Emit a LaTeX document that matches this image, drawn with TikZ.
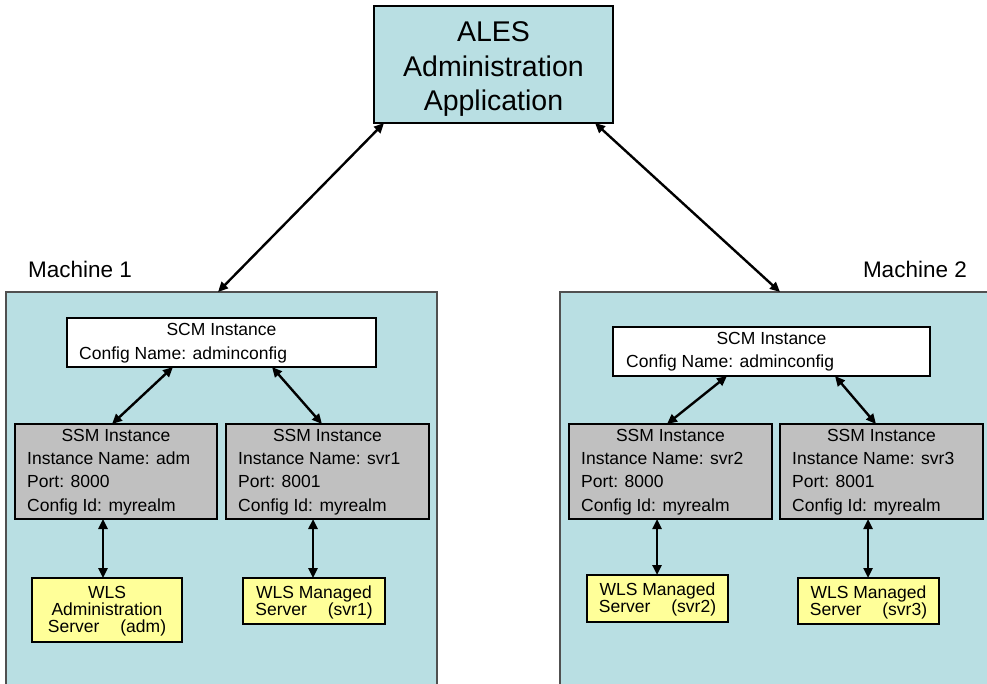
\documentclass[tikz,border=0pt]{standalone}
\usepackage{fontspec}
\setmainfont{Liberation Sans}
\usetikzlibrary{arrows.meta}
\definecolor{mblue}{HTML}{B9DFE3}
\definecolor{sgray}{HTML}{C0C0C0}
\definecolor{wyellow}{HTML}{FFFF99}
\definecolor{mborder}{HTML}{505050}
\tikzset{
  box/.style={draw=black, line width=2.2pt, inner sep=0pt, outer sep=0pt},
  machinebox/.style={draw=mborder, fill=mblue, line width=1.3pt, inner sep=0pt, outer sep=0pt},
  alesbox/.style={box, fill=mblue},
  scmbox/.style={box, fill=white},
  ssmbox/.style={box, fill=sgray},
  wlsbox/.style={box, fill=wyellow},
  txt/.style={inner sep=0pt, font=\fontsize{17.5}{17}\selectfont},
  bigtxt/.style={inner sep=0pt, font=\fontsize{28.5}{34}\selectfont},
  labtxt/.style={inner sep=0pt, font=\fontsize{22.5}{24}\selectfont},
  link/.style={line width=2.4pt, {Triangle[length=10pt,width=9pt]}-{Triangle[length=10pt,width=9pt]}}
}
\begin{document}
\begin{tikzpicture}[x=1pt,y=-1pt]
\useasboundingbox (0,0) rectangle (987,684);
\begin{scope}
\clip (0,0) rectangle (987,684);
% machine boxes
\node[machinebox, minimum width=431pt, minimum height=400pt, anchor=north west] (m1) at (6,292) {};
\node[machinebox, minimum width=440pt, minimum height=400pt, anchor=north west] (m2) at (560,292) {};
\end{scope}
\node[labtxt, anchor=base west] (m1lab) at (28,278) {Machine 1};
\node[labtxt, anchor=base east] (m2lab) at (967,278) {Machine 2};

% ALES
\node[alesbox, minimum width=239pt, minimum height=117pt] (ales) at (493.5,64.5) {};
\node[bigtxt, anchor=base] (ales1) at (493.5,41.5) {ALES};
\node[bigtxt, anchor=base] (ales2) at (493.5,77) {Administration};
\node[bigtxt, anchor=base] (ales3) at (493.5,111) {Application};

% Machine 1
\node[scmbox, minimum width=309pt, minimum height=49pt] (scm1) at (221.5,342.5) {};
\node[txt, anchor=base] (scm1a) at (221.5,335) {SCM Instance};
\node[txt, anchor=base west] (scm1b) at (79,359) {Config Name: adminconfig};

\node[ssmbox, minimum width=202pt, minimum height=95pt] (ssm1) at (116,471.5) {};
\node[txt, anchor=base] (ssm1a) at (116,441) {SSM Instance};
\node[txt, anchor=base west] (ssm1b) at (27,464) {Instance Name: adm};
\node[txt, anchor=base west] (ssm1c) at (27,487.5) {Port: 8000};
\node[txt, anchor=base west] (ssm1d) at (27,511) {Config Id: myrealm};

\node[ssmbox, minimum width=203pt, minimum height=95pt] (ssm2) at (327.5,471.5) {};
\node[txt, anchor=base] (ssm2a) at (327.5,441) {SSM Instance};
\node[txt, anchor=base west] (ssm2b) at (238,464) {Instance Name: svr1};
\node[txt, anchor=base west] (ssm2c) at (238,487.5) {Port: 8001};
\node[txt, anchor=base west] (ssm2d) at (238,511) {Config Id: myrealm};

\node[wlsbox, minimum width=150pt, minimum height=64pt] (wls1) at (107,610) {};
\node[txt, anchor=base] (wls1a) at (107,598) {WLS};
\node[txt, anchor=base] (wls1b) at (107,615) {Administration};
\node[txt, anchor=base] (wls1c) at (107,632) {Server\hspace{21pt}(adm)};

\node[wlsbox, minimum width=142pt, minimum height=46pt] (wls2) at (314,601) {};
\node[txt, anchor=base] (wls2a) at (314,598) {WLS Managed};
\node[txt, anchor=base] (wls2b) at (314,615) {Server\hspace{21pt}(svr1)};

% Machine 2
\node[scmbox, minimum width=317pt, minimum height=49pt] (scm2) at (771.5,351.5) {};
\node[txt, anchor=base] (scm2a) at (771.5,344) {SCM Instance};
\node[txt, anchor=base west] (scm2b) at (626,367) {Config Name: adminconfig};

\node[ssmbox, minimum width=203pt, minimum height=95pt] (ssm3) at (670.5,471.5) {};
\node[txt, anchor=base] (ssm3a) at (670.5,441) {SSM Instance};
\node[txt, anchor=base west] (ssm3b) at (581,464) {Instance Name: svr2};
\node[txt, anchor=base west] (ssm3c) at (581,487.5) {Port: 8000};
\node[txt, anchor=base west] (ssm3d) at (581,511) {Config Id: myrealm};

\node[ssmbox, minimum width=203pt, minimum height=95pt] (ssm4) at (881.5,471.5) {};
\node[txt, anchor=base] (ssm4a) at (881.5,441) {SSM Instance};
\node[txt, anchor=base west] (ssm4b) at (792,464) {Instance Name: svr3};
\node[txt, anchor=base west] (ssm4c) at (792,487.5) {Port: 8001};
\node[txt, anchor=base west] (ssm4d) at (792,511) {Config Id: myrealm};

\node[wlsbox, minimum width=141pt, minimum height=47pt] (wls3) at (657.5,598.5) {};
\node[txt, anchor=base] (wls3a) at (657.5,595) {WLS Managed};
\node[txt, anchor=base] (wls3b) at (657.5,612) {Server\hspace{21pt}(svr2)};

\node[wlsbox, minimum width=141pt, minimum height=46pt] (wls4) at (868.5,601) {};
\node[txt, anchor=base] (wls4a) at (868.5,598) {WLS Managed};
\node[txt, anchor=base] (wls4b) at (868.5,615) {Server\hspace{21pt}(svr3)};

% connectors
\draw[link] ([xshift=10pt]ales.south west) -- ([xshift=-3.5pt]m1.north);
\draw[link] ([xshift=-18pt]ales.south east) -- ([xshift=220pt]m2.north west);

\draw[link] ([xshift=-48.5pt]scm1.south) -- ([xshift=-4pt]ssm1.north);
\draw[link] ([xshift=50.5pt]scm1.south) -- ([xshift=-5.5pt]ssm2.north);
\draw[link] ([xshift=-13pt]ssm1.south) -- ([xshift=-4pt]wls1.north);
\draw[link] ([xshift=-14.5pt]ssm2.south) -- ([xshift=-1pt]wls2.north);

\draw[link] ([xshift=-44.5pt]scm2.south) -- ([xshift=-3.5pt]ssm3.north);
\draw[link] ([xshift=63.5pt]scm2.south) -- ([xshift=-5.5pt]ssm4.north);
\draw[link] ([xshift=-13.5pt]ssm3.south) -- ([xshift=-0.5pt]wls3.north);
\draw[link] ([xshift=-13.5pt]ssm4.south) -- ([xshift=-0.5pt]wls4.north);
\end{tikzpicture}
\end{document}
